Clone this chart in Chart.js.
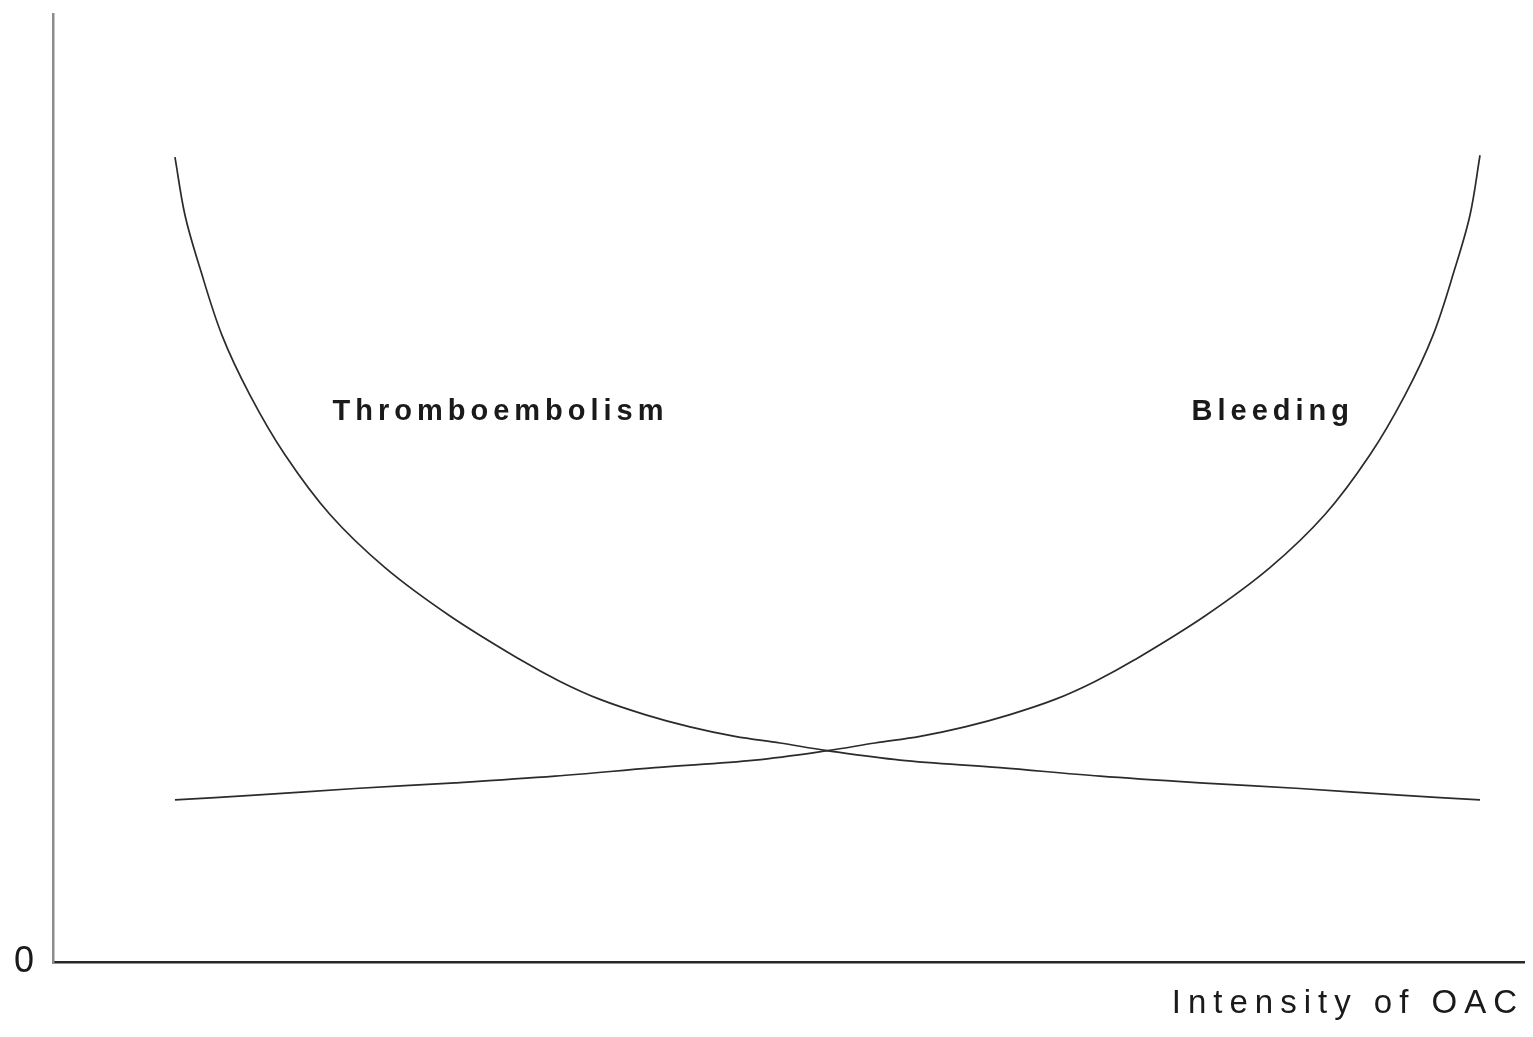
<!DOCTYPE html>
<html>
<head>
<meta charset="utf-8">
<script src="https://cdn.jsdelivr.net/npm/chart.js@4.4.1/dist/chart.umd.min.js"></script>
<style>
  html, body { margin: 0; padding: 0; background: #fff; }
  #wrap { width: 1533px; height: 1037px; }
</style>
</head>
<body>
<div id="wrap"><canvas id="chart"></canvas></div>
<script>
// values (x: intensity of OAC, y: event rate, arbitrary units)
const thromboX = [8.29, 8.97, 9.99, 11.49, 13.39, 15.77, 18.83, 22.57, 26.99, 31.75, 34.47, 37.19, 40.24, 43.30, 46.36, 49.42, 52.62, 57.58, 64.38, 71.18, 77.97, 84.77, 91.57, 97.01]
const thromboY = [84.9, 78.8, 73.2, 66.1, 59.8, 53.5, 47.2, 41.6, 36.5, 31.9, 29.6, 27.7, 26.1, 24.8, 23.8, 23.1, 22.3, 21.3, 20.5, 19.6, 18.9, 18.3, 17.6, 17.1]

const bleedX = [8.29, 13.73, 20.53, 27.33, 34.13, 40.92, 47.72, 52.69, 55.88, 58.94, 62.00, 65.06, 68.12, 70.84, 73.56, 78.31, 82.73, 86.47, 89.53, 91.91, 93.81, 95.31, 96.33, 97.01]
const bleedY = [17.1, 17.6, 18.3, 18.9, 19.6, 20.5, 21.3, 22.3, 23.1, 23.8, 24.8, 26.1, 27.7, 29.6, 31.9, 36.5, 41.6, 47.2, 53.5, 59.8, 66.1, 73.2, 78.8, 85.1]

const yTicks = [0]
const xTitle = 'Intensity of OAC'

const curveLabels = [
  { text: 'Thromboembolism', x: 19.0, y: 58.0 },
  { text: 'Bleeding', x: 77.4, y: 58.0 }
]

const fontFamily = '"Liberation Sans", Arial, Helvetica, sans-serif'

function toPoints(xs, ys) {
  return xs.map((x, i) => ({ x: x, y: ys[i] }))
}

const curveLabelPlugin = {
  id: 'curveLabels',
  beforeDraw(chart) {
    // wide tracking as in the original figure
    chart.ctx.letterSpacing = '7px'
  },
  afterDraw(chart) {
    const ctx = chart.ctx
    const xs = chart.scales.x
    const ys = chart.scales.y
    ctx.save()
    ctx.letterSpacing = '5px'
    ctx.font = 'bold 29px ' + fontFamily
    ctx.fillStyle = '#1a1a1a'
    ctx.textAlign = 'left'
    ctx.textBaseline = 'middle'
    curveLabels.forEach(l => {
      ctx.fillText(l.text, xs.getPixelForValue(l.x), ys.getPixelForValue(l.y))
    })
    ctx.restore()
  }
}

const ctx = document.getElementById('chart').getContext('2d')

const chart = new Chart(ctx, {
  type: 'line',
  data: {
    datasets: [
      {
        label: 'Thromboembolism',
        data: toPoints(thromboX, thromboY),
        borderColor: '#2b2b2b',
        borderWidth: 1.7,
        pointRadius: 0,
        tension: 0.35,
        fill: false
      },
      {
        label: 'Bleeding',
        data: toPoints(bleedX, bleedY),
        borderColor: '#2b2b2b',
        borderWidth: 1.7,
        pointRadius: 0,
        tension: 0.35,
        fill: false
      }
    ]
  },
  options: {
    responsive: true,
    maintainAspectRatio: false,
    animation: false,
    layout: {
      padding: { top: 14, right: 9, left: 0, bottom: 0 }
    },
    plugins: {
      legend: { display: false },
      tooltip: { enabled: false }
    },
    scales: {
      x: {
        type: 'linear',
        min: 0,
        max: 100,
        grid: { display: false },
        border: { display: true, color: '#262626', width: 2.5 },
        ticks: { display: false },
        title: {
          display: true,
          text: xTitle,
          align: 'end',
          color: '#1a1a1a',
          font: { family: fontFamily, size: 33 },
          padding: { top: 0, bottom: 13 }
        },
        afterFit: (scale) => {
          scale.height = 75
          scale.paddingLeft = 0
          scale.paddingRight = 0
        }
      },
      y: {
        type: 'linear',
        min: 0,
        max: 100,
        grid: { display: false },
        border: { display: true, color: '#8c8c8c', width: 2.5 },
        afterBuildTicks: (scale) => {
          scale.ticks = yTicks.map(v => ({ value: v }))
        },
        ticks: {
          color: '#1a1a1a',
          font: { family: fontFamily, size: 36 },
          padding: 4,
          callback: (v) => String(v)
        },
        afterFit: (scale) => {
          scale.width = 53
          scale.paddingTop = 0
          scale.paddingBottom = 0
        }
      }
    }
  },
  plugins: [curveLabelPlugin]
})
</script>
</body>
</html>
